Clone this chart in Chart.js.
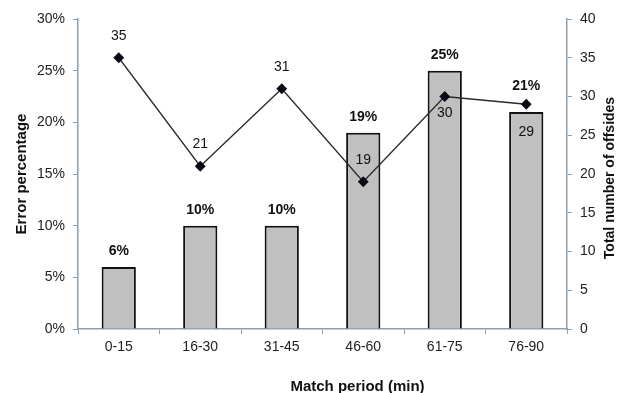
<!DOCTYPE html>
<html>
<head>
<meta charset="utf-8">
<script src="https://cdn.jsdelivr.net/npm/chart.js@4.4.0/dist/chart.umd.min.js"></script>
<style>
  html, body { margin: 0; padding: 0; background: #fff; }
  #wrap { width: 621px; height: 393px; }
</style>
</head>
<body>
<div id="wrap"><canvas id="graph" width="621" height="393"></canvas></div>
<script>
var periods = ["0-15", "16-30", "31-45", "46-60", "61-75", "76-90"];
var errorPct = [6, 10, 10, 19, 25, 21];
var offsides = [35, 21, 31, 19, 30, 29];
// which line labels go under their point
var offsideLabelBelow = [false, false, false, false, true, true];

var axisColor = "#8d9fab";
var fontFamily = "'Liberation Sans', Arial, sans-serif";

// value labels for bars and line points, plus the x and right axis titles
var valueLabels = {
  id: "valueLabels",
  afterDatasetsDraw: function(chart) {
    var ctx = chart.ctx;
    var area = chart.chartArea;
    var bars = chart.getDatasetMeta(1).data;
    var pts = chart.getDatasetMeta(0).data;
    ctx.save();
    ctx.textAlign = "center";
    ctx.textBaseline = "middle";
    ctx.fillStyle = "#111";

    ctx.font = "bold 14px " + fontFamily;
    bars.forEach(function(bar, i) {
      var y = bar.y - 16;
      var py = pts[i].y;
      // keep the label clear of a point sitting on the bar top
      if (py > bar.y - 20 && py < bar.y + 10) y = Math.min(y, py - 18);
      ctx.fillText(errorPct[i] + "%", bar.x, y);
    });

    ctx.font = "14px " + fontFamily;
    pts.forEach(function(p, i) {
      var y;
      if (offsideLabelBelow[i]) {
        y = Math.max(p.y + 17, bars[i].y + 20);
      } else {
        y = p.y - 22;
      }
      ctx.fillText(String(offsides[i]), p.x, y);
    });

    // x axis title
    ctx.font = "bold 15px " + fontFamily;
    ctx.fillText("Match period (min)", (area.left + area.right) / 2 + 35, area.bottom + 58);

    // right axis title, reading bottom to top
    ctx.font = "bold 14px " + fontFamily;
    ctx.translate(610, (area.top + area.bottom) / 2 + 4);
    ctx.rotate(-Math.PI / 2);
    ctx.fillText("Total number of offsides", 0, 0);
    ctx.restore();
  }
};

var ctx = document.getElementById("graph").getContext("2d");
var chart = new Chart(ctx, {
  data: {
    labels: periods,
    datasets: [
      {
        type: "line",
        label: "Total number of offsides",
        data: offsides,
        yAxisID: "y1",
        borderColor: "#2a2a2a",
        borderWidth: 1.3,
        pointStyle: "rectRot",
        pointRadius: 4.5,
        pointBackgroundColor: "#0a0a14",
        pointBorderColor: "#0a0a14",
        tension: 0,
        order: 0
      },
      {
        type: "bar",
        label: "Error percentage",
        data: errorPct,
        yAxisID: "y",
        backgroundColor: "#c0c0c0",
        borderColor: "#111",
        borderWidth: 2,
        categoryPercentage: 1,
        barPercentage: 0.42,
        order: 1
      }
    ]
  },
  options: {
    responsive: false,
    animation: false,
    layout: { padding: { top: 19, left: 0, right: 0, bottom: 0 } },
    plugins: {
      legend: { display: false },
      tooltip: { enabled: false }
    },
    scales: {
      x: {
        offset: true,
        grid: { drawOnChartArea: false, offset: true, color: axisColor, tickLength: 5 },
        border: { color: axisColor, width: 1.5 },
        ticks: { color: "#222", font: { family: fontFamily, size: 14 }, padding: 5 },
        afterFit: function(scale) { scale.height = 64; }
      },
      y: {
        position: "left",
        min: 0,
        max: 30,
        grid: { drawOnChartArea: false, color: axisColor, tickLength: 5 },
        border: { color: axisColor, width: 1.5 },
        ticks: {
          stepSize: 5,
          color: "#222",
          font: { family: fontFamily, size: 14 },
          padding: 8,
          callback: function(v) { return v + "%"; }
        },
        title: {
          display: true,
          text: "Error percentage",
          color: "#111",
          font: { family: fontFamily, size: 15, weight: "bold" },
          padding: { top: 13, bottom: 0 }
        },
        afterFit: function(scale) { scale.width = 78; }
      },
      y1: {
        position: "right",
        min: 0,
        max: 40,
        grid: { drawOnChartArea: false, color: axisColor, tickLength: 5 },
        border: { color: axisColor, width: 1.5 },
        ticks: {
          stepSize: 5,
          color: "#222",
          font: { family: fontFamily, size: 14 },
          padding: 8
        },
        afterFit: function(scale) { scale.width = 54; }
      }
    }
  },
  plugins: [valueLabels]
});
</script>
</body>
</html>
